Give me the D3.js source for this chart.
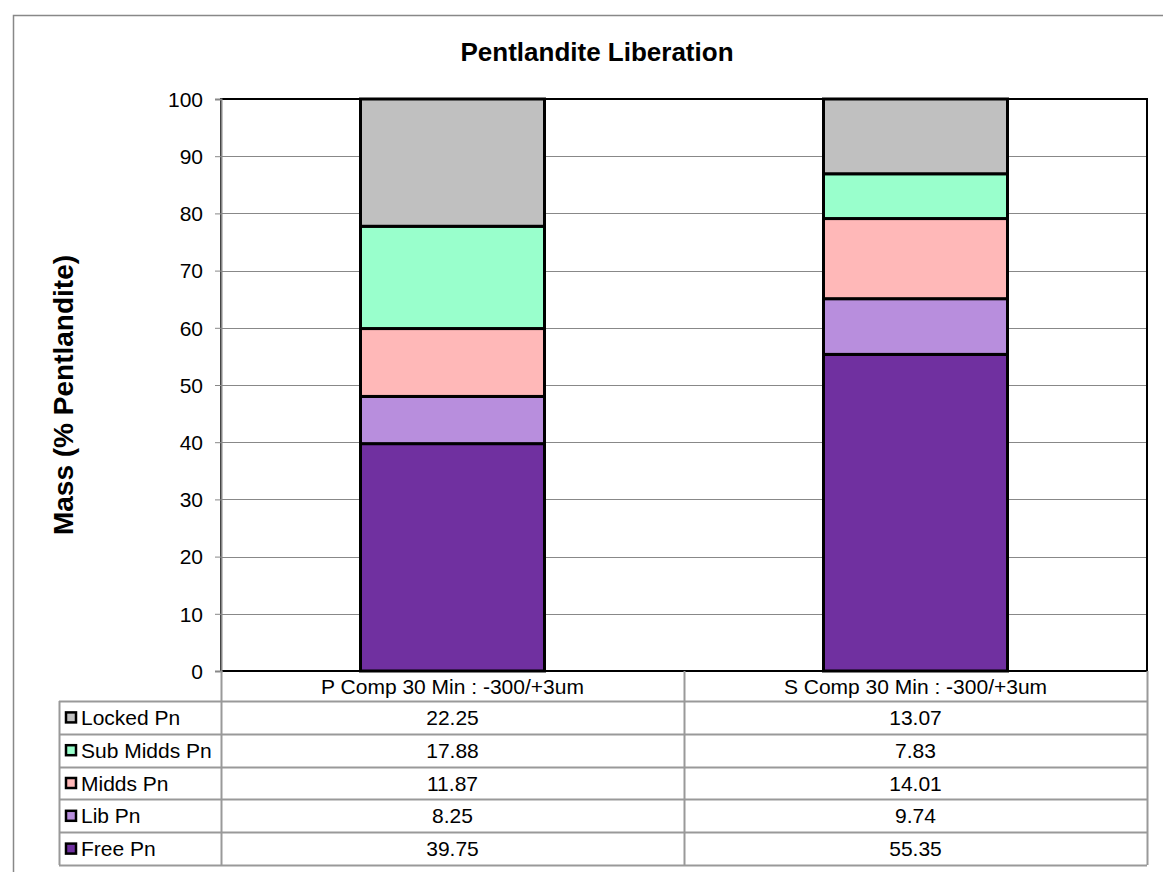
<!DOCTYPE html>
<html>
<head>
<meta charset="utf-8">
<script src="https://cdn.jsdelivr.net/npm/d3@7"></script>
<style>
	body { margin: 0; background: #fff; }
	svg text { font-family: Arial, "Liberation Sans", sans-serif; fill: #000; }
</style>
</head>
<body>
<svg id="chart" width="1163" height="872"></svg>
<script>

var categories = [ 'P Comp 30 Min : -300/+3um', 'S Comp 30 Min : -300/+3um' ];
var seriesNames = [ 'Free Pn', 'Lib Pn', 'Midds Pn', 'Sub Midds Pn', 'Locked Pn' ];
var seriesColors = [ '#7030A0', '#B88EDD', '#FFB8B8', '#99FFCC', '#C0C0C0' ];
var freePn = [ 39.75, 55.35 ];
var libPn = [ 8.25, 9.74 ];
var middsPn = [ 11.87, 14.01 ];
var subMiddsPn = [ 17.88, 7.83 ];
var lockedPn = [ 22.25, 13.07 ];
var yTicks = [ 0, 10, 20, 30, 40, 50, 60, 70, 80, 90, 100 ];

var values = [ freePn, libPn, middsPn, subMiddsPn, lockedPn ];

var svg = d3.select( '#chart' );

var plot = { left: 221, top: 99, right: 1147, bottom: 671 };
var width = plot.right - plot.left;
var height = plot.bottom - plot.top;
var fontSize = '21px';

// outer chart border (runs off the window on right / bottom)
svg.append( 'rect' )
	.attr( 'x', 13.5 ).attr( 'y', 15.5 )
	.attr( 'width', 1200 ).attr( 'height', 900 )
	.attr( 'fill', 'none' ).attr( 'stroke', '#888' ).attr( 'stroke-width', 1.5 );

svg.append( 'text' )
	.attr( 'x', 597 ).attr( 'y', 61 )
	.attr( 'text-anchor', 'middle' )
	.style( 'font-size', '26px' ).style( 'font-weight', 'bold' )
	.text( 'Pentlandite Liberation' );

var x = d3.scaleBand().domain( categories ).range( [ 0, width ] );
var y = d3.scaleLinear().domain( [ 0, 100 ] ).range( [ height, 0 ] );

var g = svg.append( 'g' ).attr( 'transform', 'translate(' + plot.left + ',' + plot.top + ')' );

// gridlines
g.append( 'g' ).selectAll( 'line' )
	.data( yTicks.filter( function ( d ) { return d > 0 && d < 100; } ) )
	.enter().append( 'line' )
	.attr( 'x1', 0 ).attr( 'x2', width )
	.attr( 'y1', function ( d ) { return Math.round( y( d ) ) + 0.5; } )
	.attr( 'y2', function ( d ) { return Math.round( y( d ) ) + 0.5; } )
	.attr( 'stroke', '#888' ).attr( 'stroke-width', 1 );

// stacked bars
var rows = categories.map( function ( c, i ) {
	var r = { category: c };
	seriesNames.forEach( function ( s, k ) { r[s] = values[k][i]; } );
	return r;
} );
var stacked = d3.stack().keys( seriesNames )( rows );

var barWidth = 184;
stacked.forEach( function ( layer, k ) {
	g.append( 'g' ).selectAll( 'rect' )
		.data( layer )
		.enter().append( 'rect' )
		.attr( 'x', function ( d ) { return x( d.data.category ) + x.bandwidth() / 2 - barWidth / 2; } )
		.attr( 'y', function ( d ) { return y( d[1] ); } )
		.attr( 'width', barWidth )
		.attr( 'height', function ( d ) { return y( d[0] ) - y( d[1] ); } )
		.attr( 'fill', seriesColors[k] )
		.attr( 'stroke', '#000' ).attr( 'stroke-width', 3 );
} );

// plot area border
g.append( 'rect' )
	.attr( 'x', 0 ).attr( 'y', 0 ).attr( 'width', width ).attr( 'height', height )
	.attr( 'fill', 'none' ).attr( 'stroke', '#000' ).attr( 'stroke-width', 2 );

// y axis
var yAxis = d3.axisLeft( y ).tickValues( yTicks ).tickSize( 6 ).tickPadding( 12 );
var ya = g.append( 'g' ).call( yAxis );
ya.select( '.domain' ).attr( 'stroke', '#888' ).attr( 'stroke-width', 2 );
ya.selectAll( '.tick line' ).attr( 'stroke', '#888' );
ya.selectAll( 'text' ).style( 'font-size', fontSize ).attr( 'font-family', null ).attr( 'dy', '0.35em' );

svg.append( 'text' )
	.attr( 'transform', 'translate(73,395) rotate(-90)' )
	.attr( 'text-anchor', 'middle' )
	.style( 'font-size', '28px' ).style( 'font-weight', 'bold' )
	.text( 'Mass (% Pentlandite)' );

// data table
var table = svg.append( 'g' );
var headerBottom = 701;
var rowH = 32.8;
var legendLeft = 59;
var tableRows = seriesNames.slice().reverse();
var tableBottom = headerBottom + rowH * tableRows.length;
var gridColor = '#999';

categories.forEach( function ( c ) {
	table.append( 'text' )
		.attr( 'x', plot.left + x( c ) + x.bandwidth() / 2 )
		.attr( 'y', 694 )
		.attr( 'text-anchor', 'middle' )
		.style( 'font-size', fontSize )
		.text( c );
} );

// horizontal lines
d3.range( tableRows.length + 1 ).forEach( function ( i ) {
	var yy = Math.round( headerBottom + i * rowH ) + 0.5;
	table.append( 'line' )
		.attr( 'x1', legendLeft ).attr( 'x2', plot.right )
		.attr( 'y1', yy ).attr( 'y2', yy )
		.attr( 'stroke', gridColor ).attr( 'stroke-width', 2 );
} );

// vertical lines
[ legendLeft, plot.left, plot.left + x.bandwidth(), plot.right ].forEach( function ( xx, i ) {
	table.append( 'line' )
		.attr( 'x1', xx + 0.5 ).attr( 'x2', xx + 0.5 )
		.attr( 'y1', i === 0 ? headerBottom : plot.bottom ).attr( 'y2', tableBottom )
		.attr( 'stroke', gridColor ).attr( 'stroke-width', 2 );
} );

tableRows.forEach( function ( s, i ) {
	var k = seriesNames.indexOf( s );
	var cy = headerBottom + i * rowH + rowH / 2;
	table.append( 'rect' )
		.attr( 'x', 66 ).attr( 'y', cy - 5 )
		.attr( 'width', 10 ).attr( 'height', 10 )
		.attr( 'fill', seriesColors[k] )
		.attr( 'stroke', '#000' ).attr( 'stroke-width', 2.5 );
	table.append( 'text' )
		.attr( 'x', 81 ).attr( 'y', cy + 7.5 )
		.style( 'font-size', fontSize )
		.text( s );
	categories.forEach( function ( c, j ) {
		table.append( 'text' )
			.attr( 'x', plot.left + x( c ) + x.bandwidth() / 2 )
			.attr( 'y', cy + 7.5 )
			.attr( 'text-anchor', 'middle' )
			.style( 'font-size', fontSize )
			.text( d3.format( '.2f' )( values[k][j] ) );
	} );
} );

</script>
</body>
</html>
